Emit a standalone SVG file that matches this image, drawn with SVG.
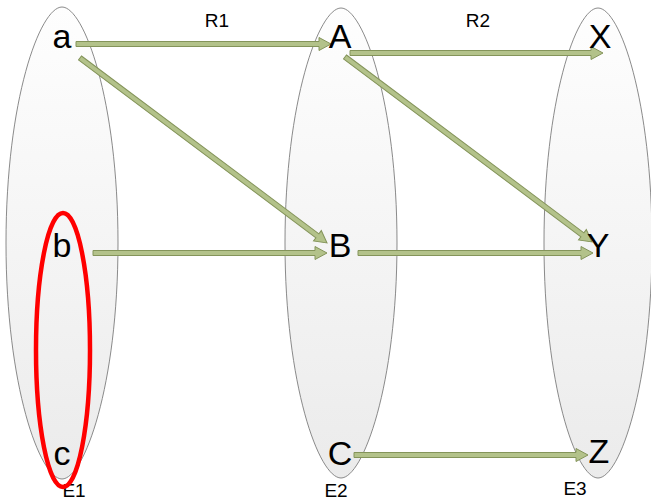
<svg xmlns="http://www.w3.org/2000/svg" width="651" height="502" viewBox="0 0 651 502">
<style>
.set{fill:url(#g);stroke:#7d7d7d;stroke-width:0.9}
.arr{fill:#b3c28a;stroke:#84945a;stroke-width:1}
.big{font-family:"Liberation Sans",Arial,sans-serif;font-size:34px;fill:#000;text-anchor:middle}
.small{font-family:"Liberation Sans",Arial,sans-serif;font-size:19px;fill:#000;text-anchor:middle}
</style>
<defs>
<linearGradient id="g" x1="0" y1="0" x2="0" y2="1">
<stop offset="0" stop-color="#fefefe"/>
<stop offset="1" stop-color="#ebebeb"/>
</linearGradient>
</defs>
<rect width="651" height="502" fill="#fff"/>
<g id="E1"><path class="set" d="M62,7C40,7 6,100 6,243C6,386 40,479 62,479C84,479 118,386 118,243C118,100 84,7 62,7Z"/></g>
<g id="E2"><path class="set" d="M341,8C319,8 285,101 285,243C285,385 319,478 341,478C363,478 397,385 397,243C397,101 363,8 341,8Z"/></g>
<g id="E3"><path class="set" d="M598,8C576,8 544,101 544,243C544,385 576,478 598,478C620,478 652,385 652,243C652,101 620,8 598,8Z"/></g>
<g id="connectors">
<path class="arr" transform="translate(76,44)" d="M0,-2.5H243V-6.5L255,0L243,6.5V2.5H0Z"/>
<path class="arr" transform="translate(80,58) rotate(36.83)" d="M0,-2.5H296.6V-6.5L308.6,0L296.6,6.5V2.5H0Z"/>
<path class="arr" transform="translate(93,253)" d="M0,-2.5H222V-6.5L234,0L222,6.5V2.5H0Z"/>
<path class="arr" transform="translate(350,53)" d="M0,-2.5H241V-6.5L253,0L241,6.5V2.5H0Z"/>
<path class="arr" transform="translate(345,57) rotate(36.83)" d="M0,-2.5H296.6V-6.5L308.6,0L296.6,6.5V2.5H0Z"/>
<path class="arr" transform="translate(358,253)" d="M0,-2.5H223V-6.5L235,0L223,6.5V2.5H0Z"/>
<path class="arr" transform="translate(354,455)" d="M0,-2.5H222V-6.5L234,0L222,6.5V2.5H0Z"/>
</g>
<g id="labels">
<text class="small" x="217" y="27">R1</text>
<text class="small" x="478" y="27">R2</text>
<text class="small" x="74" y="497">E1</text>
<text class="small" x="336" y="497">E2</text>
<text class="small" x="575" y="495">E3</text>
</g>
<g id="node-a"><text class="big" x="62" y="48">a</text></g>
<g id="node-b"><text class="big" x="62" y="257">b</text></g>
<g id="node-c"><text class="big" x="62" y="465">c</text></g>
<g id="node-A"><text class="big" x="340" y="48">A</text></g>
<g id="node-B"><text class="big" x="340" y="257">B</text></g>
<g id="node-C"><text class="big" x="340" y="465">C</text></g>
<g id="node-X"><text class="big" x="600" y="48">X</text></g>
<g id="node-Y"><text class="big" x="598" y="257">Y</text></g>
<g id="node-Z"><text class="big" x="599" y="463">Z</text></g>
<g id="highlight"><ellipse cx="63" cy="350" rx="27" ry="137" fill="none" stroke="#ff0000" stroke-width="4.5"/></g>
</svg>
